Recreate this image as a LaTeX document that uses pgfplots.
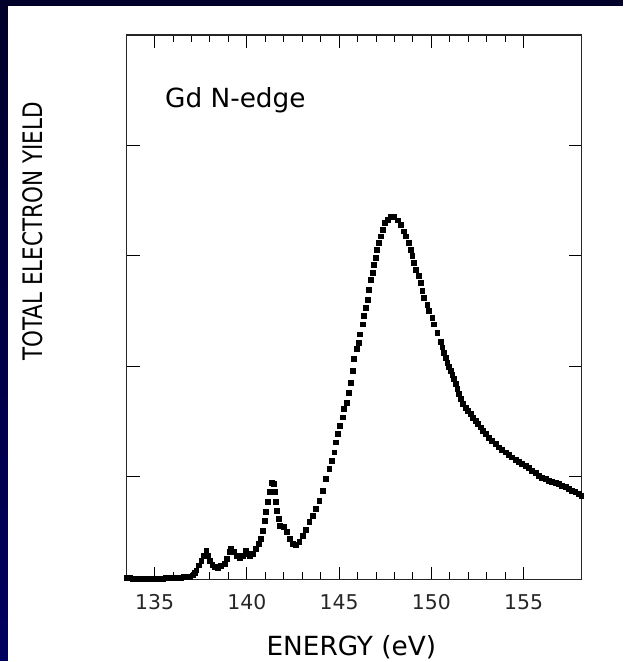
\documentclass[border=0pt]{standalone}
\usepackage{pgfplots}
\pgfplotsset{compat=1.18}
\usepackage{graphicx}
\usepackage{fontspec}
\setmainfont{DejaVu Sans}
\definecolor{navytop}{RGB}{0,0,42}
\definecolor{navybot}{RGB}{0,0,96}
\pgfplotstableread{
x y
133.486 0.0804
133.649 0.0804
133.811 0.0777
133.973 0.0759
134.135 0.0759
134.297 0.0759
134.459 0.0759
134.622 0.0759
134.784 0.0759
134.946 0.0759
135.108 0.0759
135.270 0.0759
135.432 0.0777
135.595 0.0804
135.757 0.0804
135.919 0.0822
136.081 0.0849
136.243 0.0849
136.405 0.0867
136.568 0.0894
136.730 0.0912
136.892 0.0939
137.070 0.1057
137.162 0.1256
137.254 0.1509
137.395 0.1960
137.524 0.2412
137.649 0.2809
137.795 0.3315
137.881 0.2864
137.973 0.2412
138.119 0.2023
138.243 0.1816
138.422 0.1752
138.605 0.1906
138.784 0.2114
138.908 0.2565
139.054 0.3171
139.146 0.3469
139.286 0.3171
139.449 0.2809
139.632 0.2629
139.773 0.2864
139.919 0.3315
140.043 0.3017
140.173 0.2864
140.314 0.3017
140.497 0.3469
140.638 0.3921
140.768 0.4372
140.854 0.5122
140.946 0.6025
141.038 0.6784
141.124 0.7687
141.254 0.8591
141.362 0.9431
141.459 0.9386
141.514 0.8618
141.578 0.7715
141.622 0.6929
141.719 0.6179
141.784 0.5547
141.973 0.5429
142.151 0.4977
142.297 0.4372
142.476 0.3921
142.659 0.3830
142.838 0.4074
143.016 0.4643
143.200 0.5185
143.378 0.5881
143.557 0.6477
143.741 0.7082
143.919 0.7832
144.097 0.8735
144.281 0.9792
144.459 1.0696
144.584 1.1445
144.730 1.2204
144.822 1.3107
144.908 1.3857
145.054 1.4607
145.178 1.5366
145.270 1.6116
145.395 1.6721
145.503 1.7624
145.632 1.8528
145.719 1.9575
145.811 2.0632
145.935 2.1536
146.043 2.2141
146.135 2.2891
146.259 2.3794
146.351 2.4544
146.443 2.5303
146.530 2.6052
146.622 2.6956
146.714 2.7859
146.800 2.8464
146.892 2.9214
146.984 2.9819
147.038 3.0569
147.162 3.1174
147.254 3.1770
147.341 3.2376
147.486 3.2981
147.611 3.3279
147.795 3.3523
147.973 3.3523
148.151 3.3216
148.335 3.2827
148.514 3.2222
148.605 3.1770
148.784 3.1174
148.876 3.0569
148.962 2.9964
149.054 2.9368
149.146 2.8763
149.324 2.8157
149.416 2.7561
149.503 2.6802
149.595 2.6206
149.773 2.5601
149.865 2.4995
150.043 2.4399
150.135 2.3794
150.314 2.3044
150.497 2.2213
150.584 2.1716
150.676 2.1238
150.768 2.0768
150.854 2.0334
150.946 1.9955
151.038 1.9575
151.124 1.9187
151.216 1.8826
151.308 1.8374
151.395 1.7922
151.486 1.7471
151.578 1.7019
151.703 1.6612
151.849 1.6269
151.973 1.5980
152.119 1.5663
152.243 1.5348
152.389 1.5059
152.514 1.4760
152.659 1.4463
152.784 1.4173
152.930 1.3857
153.108 1.3541
153.286 1.3252
153.470 1.2954
153.649 1.2656
153.827 1.2412
154.011 1.2204
154.189 1.1960
154.368 1.1752
154.551 1.1509
154.730 1.1301
154.908 1.1147
155.092 1.0994
155.270 1.0786
155.449 1.0542
155.632 1.0334
155.811 1.0090
155.989 0.9928
156.173 0.9792
156.351 0.9657
156.530 0.9548
156.714 0.9431
156.892 0.9341
157.070 0.9187
157.254 0.9042
157.432 0.8889
157.611 0.8735
157.795 0.8591
157.973 0.8437
158.119 0.8284
}\tedata
\begin{document}
\begin{tikzpicture}
\fill[white] (0,0) rectangle (625bp,662bp);
\fill[navytop] (0,656bp) rectangle (625bp,662bp);
\shade[top color=navytop, bottom color=navybot] (0,0) rectangle (8bp,662bp);
\begin{axis}[
  at={(127bp,81bp)}, anchor=south west,
  scale only axis, width=456bp, height=546bp,
  xmin=133.486, xmax=158.135, ymin=0.0668, ymax=5,
  xtick={135,140,145,150,155}, minor x tick num=4,
  ytick={1,2,3,4}, yticklabels={}, minor y tick num=0,
  tick align=inside,
  major tick length=13bp, minor tick length=7.5bp,
  every tick/.style={black, line width=1bp},
  axis line style={black!85, line width=1.2bp},
  /pgf/number format/assume math mode=true,
  /pgf/number format/1000 sep={},
  xticklabel style={anchor=base, yshift=-30bp, inner sep=0pt, text=black!85,
    font=\fontsize{20.5}{24}\selectfont},
  clip=false,
]
\addplot[only marks, mark=square*, mark size=2.45bp, black] table[x=x,y=y] {\tedata};
\node[anchor=base west, font=\fontsize{26.5}{30}\selectfont] at (rel axis cs:0.0768,0.8663) {Gd N-edge};
\node[anchor=base, font=\fontsize{26.5}{30}\selectfont, text=black] at (rel axis cs:0.494,-0.139) {ENERGY (eV)};
\node[rotate=90, font=\fontsize{27}{30}\selectfont, text=black] at (rel axis cs:-0.206,0.639) {\scalebox{0.8}[1]{TOTAL ELECTRON YIELD}};
\end{axis}
\end{tikzpicture}
\end{document}
